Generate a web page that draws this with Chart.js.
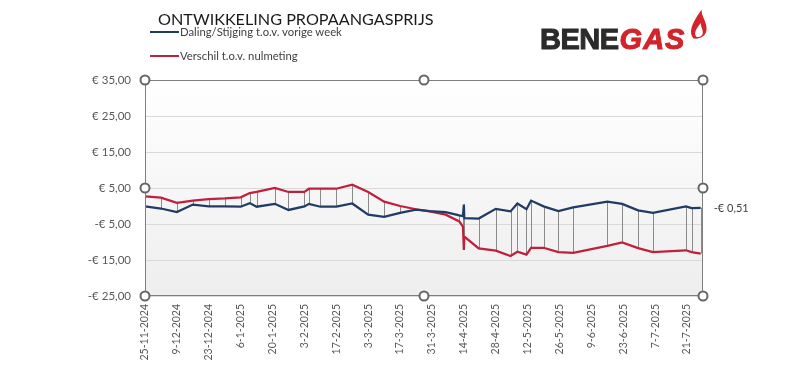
<!DOCTYPE html>
<html>
<head>
<meta charset="utf-8">
<script src="https://cdn.jsdelivr.net/npm/chart.js@4.4.1/dist/chart.umd.min.js"></script>
<style>
  html, body { margin: 0; padding: 0; background: #fff; }
  #wrap { position: relative; width: 800px; height: 392px; font-family: Lato, "Open Sans", sans-serif; }
  #chart { position: absolute; left: 0; top: 0; }
  #title { position: absolute; left: 158px; top: 9px; font-size: 16.2px; color: #1a1a1a; white-space: nowrap; }
  .leg { position: absolute; left: 150px; font-size: 11.3px; color: #404040; white-space: nowrap; }
  .leg i { display: inline-block; width: 29px; height: 2px; vertical-align: middle; margin-right: 1px; position: relative; top: -1px; }
  #logo { position: absolute; left: 540px; top: 23px; font: bold 29px "Liberation Sans", Arial, sans-serif; white-space: nowrap; }
  #logo .b { color: #2b2b2b; -webkit-text-stroke: 1px #2b2b2b; letter-spacing: -0.5px; }
  #logo .g { color: #d3242b; -webkit-text-stroke: 1px #d3242b; font-style: italic; letter-spacing: 1px; margin-left: 1px; }
  #flame { position: absolute; left: 689px; top: 6px; }
</style>
</head>
<body>
<div id="wrap">
  <canvas id="chart" width="800" height="392"></canvas>
  <div id="title">ONTWIKKELING PROPAANGASPRIJS</div>
  <div class="leg" style="top:25px"><i style="background:#203c64"></i>Daling/Stijging t.o.v. vorige week</div>
  <div class="leg" style="top:49px"><i style="background:#c0203c"></i>Verschil t.o.v. nulmeting</div>
  <div id="logo"><span class="b">BENE</span><span class="g">GAS</span></div>
  <svg id="flame" width="20" height="36" viewBox="0 0 22 34">
    <path d="M5 33 C-1 26 3 16 14 1 C13 9 21 15 19 25 C18 30 12 34 5 33 Z" fill="#d3242b"/>
    <path d="M8 31 C5 27 8 22 13 16 C13 21 16 24 15 28 C14 31 11 32 8 31 Z" fill="#fff"/>
  </svg>
</div>
<script>
// === Data ===
// x = days since 25-11-2024
const startDate = new Date(2024, 10, 25);
const days = [0, 7, 14, 21, 28, 35, 42, 46, 49, 57, 63, 70, 72, 77, 84, 91, 98, 105, 112, 119,
  125, 132, 138, 139.6, 140, 140.2, 146.5, 154, 160.5, 163.5, 167.5, 169.5, 175, 181.5, 188, 203,
  209.5, 216.5, 223, 237.5, 240, 244];
const weeklyChange = [-0.1, -0.7, -1.7, 0.4, -0.1, -0.1, -0.2, 0.8, -0.2, 0.6, -1.1, -0.1, 0.6, -0.2,
  -0.2, 0.7, -2.4, -3.0, -1.9, -1.0, -1.4, -1.7, -2.6, -2.8, 0.4, -3.4, -3.5, -0.8, -1.5, 0.7, -0.9,
  1.5, -0.1, -1.4, -0.4, 1.2, 0.6, -1.2, -1.9, -0.1, -0.6, -0.51];
const diffFromBase = [2.7, 2.3, 0.9, 1.5, 1.9, 2.1, 2.4, 3.6, 3.9, 5.0, 3.9, 3.9, 4.8, 4.8, 4.8, 5.9,
  3.9, 1.2, 0.0, -0.9, -1.5, -2.4, -4.3, -5.7, -12.2, -8.5, -11.8, -12.4, -13.9, -12.7, -13.5, -11.6,
  -11.6, -12.8, -13.0, -11.1, -10.1, -11.7, -12.8, -12.3, -12.8, -13.2];
const seriesNames = ["Daling/Stijging t.o.v. vorige week", "Verschil t.o.v. nulmeting"];
const yTicks = [-25, -15, -5, 5, 15, 25, 35];

const BLUE = "#203c64";
const RED = "#c0203c";

function euro(v) {
  return (v < 0 ? "-" : "") + "€ " + Math.abs(v).toFixed(2).replace(".", ",");
}

function dateLabel(v) {
  const d = new Date(startDate.getFullYear(), startDate.getMonth(), startDate.getDate() + v);
  return d.getDate() + "-" + (d.getMonth() + 1) + "-" + d.getFullYear();
}

// plot background, drop lines, border, handles and last value label
const decor = {
  id: "decor",
  beforeDraw(chart) {
    const { ctx, chartArea: a } = chart;
    const g = ctx.createLinearGradient(0, a.top, 0, a.bottom);
    g.addColorStop(0, "#ffffff");
    g.addColorStop(1, "#eeeeee");
    ctx.save();
    ctx.fillStyle = g;
    ctx.fillRect(a.left, a.top, a.right - a.left, a.bottom - a.top);
    ctx.restore();
  },
  beforeDatasetsDraw(chart) {
    const { ctx } = chart;
    const m0 = chart.getDatasetMeta(0).data;
    const m1 = chart.getDatasetMeta(1).data;
    ctx.save();
    ctx.strokeStyle = "#8a8a8a";
    ctx.lineWidth = 1;
    ctx.beginPath();
    m0.forEach((p, i) => {
      const x = Math.round(p.x) + 0.5;
      ctx.moveTo(x, p.y);
      ctx.lineTo(x, m1[i].y);
    });
    ctx.stroke();
    ctx.restore();
  },
  afterDraw(chart) {
    const { ctx, chartArea: a } = chart;
    ctx.save();
    ctx.strokeStyle = "#7f7f7f";
    ctx.lineWidth = 1;
    ctx.strokeRect(a.left + 0.5, a.top + 0.5, a.right - a.left - 1, a.bottom - a.top - 1);

    // label at last point of the weekly series
    const m0 = chart.getDatasetMeta(0).data;
    const last = m0[m0.length - 1];
    ctx.fillStyle = "#404040";
    ctx.font = "11px Lato, 'Open Sans', sans-serif";
    ctx.textAlign = "left";
    ctx.textBaseline = "middle";
    ctx.fillText(euro(weeklyChange[weeklyChange.length - 1]), last.x + 13, last.y + 1);

    // selection handles
    const midX = (a.left + a.right) / 2, midY = (a.top + a.bottom) / 2;
    const pts = [[a.left, a.top], [midX, a.top], [a.right, a.top], [a.left, midY], [a.right, midY],
      [a.left, a.bottom], [midX, a.bottom], [a.right, a.bottom]];
    ctx.fillStyle = "#ffffff";
    ctx.strokeStyle = "#666666";
    ctx.lineWidth = 2;
    pts.forEach(([x, y]) => {
      ctx.beginPath();
      ctx.arc(x, y, 4.5, 0, Math.PI * 2);
      ctx.fill();
      ctx.stroke();
    });
    ctx.restore();
  }
};

const ctx = document.getElementById("chart").getContext("2d");
new Chart(ctx, {
  type: "line",
  data: {
    datasets: [
      {
        label: seriesNames[0],
        data: days.map((d, i) => ({ x: d, y: weeklyChange[i] })),
        borderColor: BLUE,
        borderWidth: 2.25,
        pointRadius: 0,
        tension: 0
      },
      {
        label: seriesNames[1],
        data: days.map((d, i) => ({ x: d, y: diffFromBase[i] })),
        borderColor: RED,
        borderWidth: 2.25,
        pointRadius: 0,
        tension: 0
      }
    ]
  },
  options: {
    responsive: false,
    animation: false,
    layout: { padding: { left: 0, right: 97, top: 80, bottom: 0 } },
    plugins: {
      legend: { display: false },
      title: { display: false },
      tooltip: { enabled: false }
    },
    scales: {
      x: {
        type: "linear",
        min: 0,
        max: 245,
        afterFit: s => { s.height = 96; },
        grid: { display: false, drawTicks: false },
        border: { display: false },
        ticks: {
          stepSize: 14,
          includeBounds: false,
          autoSkip: false,
          minRotation: 90,
          maxRotation: 90,
          padding: 8,
          color: "#595959",
          font: { family: "Lato, 'Open Sans', sans-serif", size: 10.5 },
          callback: v => dateLabel(v)
        }
      },
      y: {
        min: -25,
        max: 35,
        afterFit: s => { s.width = 145; },
        afterBuildTicks: s => { s.ticks = yTicks.map(v => ({ value: v })); },
        grid: { color: "#d9d9d9", drawTicks: false },
        border: { display: false },
        ticks: {
          padding: 14,
          color: "#595959",
          font: { family: "Lato, 'Open Sans', sans-serif", size: 11.5 },
          callback: v => euro(v)
        }
      }
    }
  },
  plugins: [decor]
});
</script>
</body>
</html>
